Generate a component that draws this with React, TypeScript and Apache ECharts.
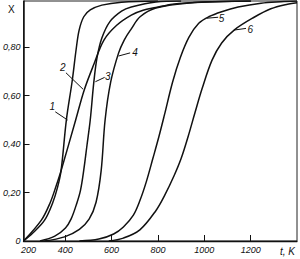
import React, { useEffect, useRef } from "react";
import * as echarts from "echarts";

// temperature t (K) vs conversion X
const curve1: [number, number][] = [
  [220, 0], [260, 0.033], [311, 0.086], [346, 0.158], [367, 0.222], [382, 0.29],
  [405, 0.5], [430, 0.66], [447, 0.79], [460, 0.87], [480, 0.925], [508, 0.953],
  [558, 0.973], [643, 0.985], [800, 0.99],
];
const curve2: [number, number][] = [
  [220, 0], [297, 0.086], [335, 0.158], [360, 0.225], [382, 0.29], [445, 0.499],
  [482, 0.623], [524, 0.73], [567, 0.829], [622, 0.89], [685, 0.932], [736, 0.952],
  [791, 0.963], [863, 0.977], [990, 0.986], [1200, 0.99],
];
const curve3: [number, number][] = [
  [291, 0], [355, 0.02], [401, 0.054], [425, 0.09], [450, 0.156], [466, 0.21],
  [480, 0.293], [494, 0.396], [508, 0.5], [523, 0.652], [537, 0.755], [558, 0.837],
  [592, 0.904], [643, 0.948], [685, 0.965], [791, 0.986], [900, 0.99],
];
const curve4: [number, number][] = [
  [310, 0], [397, 0.017], [461, 0.048], [503, 0.09], [533, 0.16], [555, 0.29],
  [572, 0.499], [596, 0.655], [630, 0.775], [655, 0.83], [685, 0.875], [723, 0.925],
  [791, 0.961], [935, 0.982], [1202, 0.99],
];
const curve5: [number, number][] = [
  [461, 0], [545, 0.008], [609, 0.029], [651, 0.058], [694, 0.107], [723, 0.169],
  [750, 0.245], [778, 0.34], [804, 0.43], [828, 0.52], [863, 0.655], [897, 0.758],
  [934, 0.841], [976, 0.898], [1019, 0.925], [1075, 0.946], [1146, 0.965], [1245, 0.981],
  [1330, 0.987], [1400, 0.99],
];
const curve6: [number, number][] = [
  [588, 0], [651, 0.012], [722, 0.046], [791, 0.125], [830, 0.19], [870, 0.27],
  [900, 0.34], [930, 0.43], [960, 0.53], [991, 0.63], [1033, 0.745], [1075, 0.817],
  [1130, 0.871], [1215, 0.923], [1287, 0.958], [1359, 0.977], [1400, 0.983],
];
const curves = [curve1, curve2, curve3, curve4, curve5, curve6];

const xLabelValues = [220, 400, 600, 800, 1000, 1200];
const xTickValues = [400, 600, 800, 1000, 1200];
const yTickValues = [0, 0.2, 0.4, 0.6, 0.8];

// curve numbers: text position, leader start, leader end (data coords)
const curveNames = ["1", "2", "3", "4", "5", "6"];
const nameAt: [number, number][] = [
  [344, 0.553], [389, 0.714], [584, 0.677], [701, 0.776], [1074, 0.919], [1198, 0.873],
];
const leaderFrom: [number, number][] = [
  [357, 0.533], [403, 0.694], [570, 0.675], [680, 0.776], [1060, 0.923], [1180, 0.877],
];
const leaderTo: [number, number][] = [
  [410, 0.499], [477, 0.626], [530, 0.657], [630, 0.763], [1011, 0.919], [1128, 0.87],
];

const FONT = "'Liberation Sans Narrow', 'Liberation Sans', sans-serif";

export default function App() {
  const ref = useRef<HTMLDivElement>(null);
  useEffect(() => {
    if (!ref.current) return;
    const chart = echarts.init(ref.current, undefined, { renderer: "svg" });
    chart.setOption({
      animation: false,
      backgroundColor: "#fff",
      grid: {
        left: 18, right: 3, top: 1, bottom: 18,
        show: true, borderColor: "#222", borderWidth: 1, backgroundColor: "transparent",
      },
      xAxis: {
        type: "value", min: 220, max: 1400,
        axisLine: { show: true, onZero: false, lineStyle: { color: "#111", width: 1.3 } },
        axisTick: { show: true, inside: true, length: 6, customValues: xTickValues, lineStyle: { color: "#111" } },
        axisLabel: {
          customValues: xLabelValues,
          fontFamily: FONT, fontStyle: "italic", fontSize: 9, color: "#111", margin: 4,
          formatter: (v: number) => (v === 220 ? "{a|200}" : String(v)),
          rich: { a: { padding: [0, 0, 0, 10], fontFamily: FONT, fontStyle: "italic", fontSize: 9, color: "#111" } },
        },
        splitLine: { show: false },
      },
      yAxis: {
        type: "value", min: 0, max: 0.99,
        axisLine: { show: true, lineStyle: { color: "#111", width: 1.5 } },
        axisTick: { show: true, inside: true, length: 6, customValues: yTickValues, lineStyle: { color: "#111" } },
        axisLabel: {
          customValues: yTickValues,
          fontFamily: FONT, fontStyle: "italic", fontSize: 9, color: "#111", margin: 3,
          formatter: (v: number) => (v === 0 ? "0" : v.toFixed(2).replace(".", ",")),
        },
        splitLine: { show: false },
      },
      series: curves.map((c) => ({
        type: "line",
        data: c,
        smooth: 0.35,
        showSymbol: false,
        clip: true,
        lineStyle: { color: "#111", width: 1.5 },
      })),
    });

    const px = (p: [number, number]) => chart.convertToPixel({ gridIndex: 0 }, p) as number[];
    const graphics: any[] = [];
    curveNames.forEach((n, i) => {
      const a = px(nameAt[i]);
      const f = px(leaderFrom[i]);
      const t = px(leaderTo[i]);
      graphics.push({
        type: "line",
        shape: { x1: f[0], y1: f[1], x2: t[0], y2: t[1] },
        style: { stroke: "#111", lineWidth: 1 },
      });
      graphics.push({
        type: "text",
        x: a[0], y: a[1],
        style: {
          text: n, fill: "#111", font: `italic 10px ${FONT}`,
          align: "center", verticalAlign: "middle",
        },
      });
    });
    graphics.push({
      type: "text", left: 8, top: 4,
      style: { text: "X", fill: "#111", font: `10px ${FONT}` },
    });
    graphics.push({
      type: "text", right: 5, bottom: 3,
      style: { text: "t, K", fill: "#111", font: `italic 10px ${FONT}` },
    });
    chart.setOption({ graphic: graphics });

    return () => chart.dispose();
  }, []);
  return <div ref={ref} style={{ width: 300, height: 259, position: "absolute", left: 0, top: 0 }} />;
}
